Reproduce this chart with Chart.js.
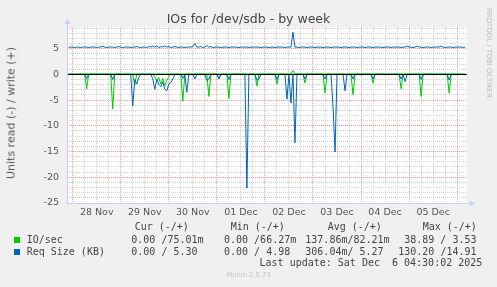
<!DOCTYPE html>
<html>
<head>
<meta charset="utf-8">
<script src="https://cdn.jsdelivr.net/npm/chart.js@4.4.0/dist/chart.umd.min.js"></script>
<style>
  body { margin: 0; background: #f0f0f0; }
  #wrap { position: relative; width: 497px; height: 287px; overflow: hidden; }
  canvas { position: absolute; left: 0; top: 0; }
  .t { position: absolute; white-space: pre; color: #444; }
  .mono { font-family: "DejaVu Sans Mono", monospace; font-size: 10px; line-height: 12px; }
  .sq { position: absolute; width: 6px; height: 6px; }
</style>
</head>
<body>
<div id="wrap">
  <canvas id="ioChart" width="497" height="287"></canvas>
  <div class="t" id="title" style="left:0;width:497px;top:11px;text-align:center;font:12.5px 'DejaVu Sans';color:#444">IOs for /dev/sdb - by week</div>
  <div class="t" style="left:10.8px;top:112.5px;transform:translate(-50%,-50%) rotate(-90deg);font:11px 'DejaVu Sans';color:#555">Units read (-) / write (+)</div>
  <div class="t" style="left:489px;top:53px;transform:translate(-50%,-50%) rotate(90deg);font:7px 'DejaVu Sans';color:#bbb">RRDTOOL / TOBI OETIKER</div>
  <div id="legend"></div>
  <div class="t" style="left:0;width:497px;top:271px;text-align:center;font:6.8px 'DejaVu Sans';color:#c4c4c4">Munin 2.0.73</div>
</div>
<script>
// x axis: hours since 28 Nov 00:00, one sample per hour starting at -2h
const firstHour = -2;
const dayLabels = ['28 Nov', '29 Nov', '30 Nov', '01 Dec', '02 Dec', '03 Dec', '04 Dec', '05 Dec'];

// IO/sec, read side (plotted negative)
const readIO = [
  0, 0,
  0,0,0,0,0,0,0,2.8,0,0,0,0,0,0,0,0,0,0,0,0,6.7,0,0,0,
  0,0,0,0,0,0,0,2.1,0,0,0,0,0,0,0,0,0,0.5,1.2,0.6,1.9,0.8,2.2,1.2,
  0.5,0,0,0,0,0,0,5.2,0,0,0,0,0,0,0,0,0,0,0,0,4.3,0,0,0,
  0,0.8,0,0,0,0,4.7,0,0,0,0,0,0,0,0,0,0,0,0,0,2.3,0,0,0,
  0,0,0,0,0,0,1.9,0,0,0,0,0,0,0,0,0,0,0,0,0,1.7,0,0,0,
  0,0,0,0,0,0,3.6,0,0,0,0,0,0,0,0,0,0,0,0,0,4.0,0,0,0,
  0,0,0,0,0,0,1.7,0,0,0,0,0,0,0,0,0,0,0,0,0,2.8,0,0,0,
  0,0,0,0,0,0,4.3,0,0,0,0,0,0,0,0,0,0,0,0,0,3.7,0,0,0,
  0,0,0,0,0
];
// IO/sec, write side
const writeIO = [
  0.08, 0.08,
  0.08,0.07,0.08,0.08,0.09,0.08,0.08,0.08,0.07,0.08,0.08,0.08,0.09,0.08,0.08,0.08,0.07,0.08,0.08,0.08,0.08,0.09,0.08,0.08,
  0.08,0.08,0.07,0.08,0.08,0.08,0.09,0.08,0.08,0.08,0.08,0.07,0.08,0.08,0.09,0.08,0.08,0.08,0.08,0.09,0.08,0.08,0.08,0.08,
  0.08,0.08,0.08,0.07,0.08,0.08,0.08,0.08,0.09,0.08,0.08,0.08,0.08,0.10,0.08,0.08,0.08,0.07,0.08,0.09,0.08,0.08,0.08,0.08,
  0.08,0.08,0.07,0.08,0.08,0.08,0.08,0.08,0.08,0.09,0.08,0.08,0.08,0.07,0.08,0.08,0.08,0.08,0.08,0.08,0.09,0.08,0.08,0.08,
  0.08,0.08,0.08,0.08,0.07,0.08,0.08,0.08,0.08,0.08,0.08,0.09,0.08,0.08,0.70,0.08,0.08,0.08,0.07,0.08,0.08,0.08,0.08,0.08,
  0.08,0.08,0.08,0.09,0.08,0.08,0.07,0.08,0.08,0.08,0.08,0.08,0.08,0.08,0.09,0.08,0.08,0.07,0.08,0.08,0.08,0.08,0.08,0.08,
  0.08,0.08,0.08,0.08,0.08,0.07,0.08,0.08,0.08,0.09,0.08,0.08,0.08,0.08,0.07,0.08,0.08,0.08,0.08,0.08,0.08,0.09,0.08,0.08,
  0.08,0.08,0.07,0.08,0.08,0.08,0.08,0.08,0.08,0.08,0.09,0.08,0.08,0.08,0.07,0.08,0.08,0.08,0.08,0.08,0.08,0.08,0.08,0.08,
  0.08,0.08,0.07,0.08,0.08
];
// Req Size (KB), read side (plotted negative)
const readReq = [
  0, 0,
  0,0,0,0,0,0,0,0.8,0,0,0,0,0,0,0,0,0,0,0,0,1.0,0,0,0,
  0,0,0,0,0,0,6.1,1.0,1.9,0.6,0,0,0,0,0,0,0.9,2.9,1.0,1.9,2.4,1.5,2.9,3.2,
  1.9,1.6,0.9,0,0,0,0,0.8,0,3.5,0,0,0,0.9,0,0,0,0,0,1.2,0.9,0,0,0,
  0,0.9,0,0,0,0,1.0,0,0,0,0,0,0,0,0,22.1,0,0,0,0,1.2,0.9,0,0,
  0,0,0,0,0,0,1.0,0,0,0,0,4.8,0,5.6,0,13.3,0,0,0,0,0.9,0,0,0,
  0,0,0,0,0,0,0.9,0,0,0,6.3,15.1,0,0,0,0,3.2,0,0,0,0.9,0,0,0,
  0,0,0,0,0,0,0.9,0,0,0,0,0,0,0,0,0,0,0,0,0,0.9,0,1.4,0,
  0,0,0,0,0,0,1.0,0,0,0,0,0,0,0,0,0,0,0,0,0,1.1,0,0,0,
  0,0,0,0,0
];
// Req Size (KB), write side
const writeReq = [
  5.2, 5.3,
  5.3,5.2,5.3,5.3,5.2,5.3,5.3,5.3,5.2,5.3,5.3,5.3,5.2,5.3,5.3,5.5,5.3,5.2,5.3,5.3,5.3,5.2,5.3,5.4,
  5.3,5.2,5.3,5.3,5.3,5.2,5.3,5.3,5.4,5.3,5.2,5.3,5.3,5.2,5.4,5.3,5.5,5.3,5.5,5.2,5.4,5.3,5.5,5.3,
  5.4,5.2,5.3,5.4,5.3,5.2,5.3,5.3,5.2,5.3,5.3,5.3,5.4,6.0,5.3,5.3,5.4,5.2,5.3,5.6,5.3,5.4,5.2,5.3,
  5.3,5.3,5.2,5.3,5.3,5.3,5.2,5.3,5.3,5.3,5.3,5.2,5.3,5.3,5.3,5.3,5.2,5.3,5.3,5.3,5.3,5.3,5.2,5.3,
  5.3,5.3,5.2,5.3,5.3,5.2,5.3,5.3,5.3,5.3,5.2,5.3,5.3,5.3,8.2,5.3,5.3,5.2,5.3,5.3,5.3,5.2,5.3,5.3,
  5.3,5.2,5.3,5.3,5.3,5.2,5.3,5.3,5.3,5.2,5.3,5.3,5.3,5.3,5.2,5.3,5.3,5.3,5.2,5.3,5.3,5.3,5.2,5.3,
  5.3,5.3,5.2,5.3,5.3,5.3,5.2,5.3,5.3,5.3,5.3,5.2,5.3,5.3,5.3,5.2,5.3,5.3,5.3,5.3,5.2,5.3,5.3,5.5,
  5.3,5.3,5.2,5.3,5.5,5.3,5.3,5.2,5.3,5.3,5.3,5.2,5.3,5.3,5.3,5.3,5.5,5.3,5.2,5.3,5.3,5.3,5.2,5.3,
  5.3,5.3,5.3,5.2,5.3
];

// legend table
const seriesNames = ['IO/sec', 'Req Size (KB)'];
const seriesColors = ['#00cc00', '#0066b3'];
const curVals = ['0.00 /75.01m', '0.00 / 5.30'];
const minVals = ['0.00 /66.27m', '0.00 / 4.98'];
const avgVals = ['137.86m/82.21m', '306.04m/ 5.27'];
const maxVals = ['38.89 / 3.53', '130.20 /14.91'];
const lastUpdate = 'Last update: Sat Dec  6 04:30:02 2025';

const pts = (arr, sign) => arr.map((v, i) => ({ x: firstHour + i, y: sign * v }));

const minorGrid = 'rgb(210,210,210)';
const majorGrid = 'rgba(255,0,0,0.42)';
const xMin = -2.83, xMax = 196.9, yMin = -25, yMax = 9.2;

const munPlugin = {
  id: 'munin',
  beforeDraw(chart) {
    const a = chart.chartArea, c = chart.ctx;
    c.save();
    c.fillStyle = '#ffffff';
    c.fillRect(a.left, a.top, a.right - a.left, a.bottom - a.top);
    c.restore();
  },
  afterDatasetsDraw(chart) {
    const a = chart.chartArea, c = chart.ctx;
    const y0 = Math.round(chart.scales.y.getPixelForValue(0)) + 0.5;
    c.save();
    c.strokeStyle = '#000';
    c.lineWidth = 1;
    c.beginPath();
    c.moveTo(a.left, y0);
    c.lineTo(a.right, y0);
    c.stroke();
    // axes with arrows
    c.strokeStyle = '#c8d0f4';
    c.fillStyle = '#c8d0f4';
    const xl = Math.round(a.left) + 0.5, yb = Math.round(a.bottom) + 0.5;
    c.beginPath();
    c.moveTo(xl, yb);
    c.lineTo(xl, a.top - 4);
    c.moveTo(xl, yb);
    c.lineTo(a.right + 4, yb);
    c.stroke();
    c.beginPath();
    c.moveTo(xl - 3, a.top - 3); c.lineTo(xl + 3, a.top - 3); c.lineTo(xl, a.top - 8); c.closePath();
    c.fill();
    c.beginPath();
    c.moveTo(a.right + 3, yb - 3); c.lineTo(a.right + 3, yb + 3); c.lineTo(a.right + 8, yb); c.closePath();
    c.fill();
    c.restore();
  }
};

const tickFont = { family: 'DejaVu Sans', size: 9.5 };

const ctx = document.getElementById('ioChart').getContext('2d');
new Chart(ctx, {
  type: 'line',
  data: {
    datasets: [
      { label: 'Req Size (KB) read', data: pts(readReq, -1), borderColor: seriesColors[1], order: 1 },
      { label: 'Req Size (KB) write', data: pts(writeReq, 1), borderColor: seriesColors[1], order: 1 },
      { label: 'IO/sec read', data: pts(readIO, -1), borderColor: seriesColors[0], order: 2 },
      { label: 'IO/sec write', data: pts(writeIO, 1), borderColor: seriesColors[0], order: 2 }
    ]
  },
  options: {
    responsive: false,
    animation: false,
    devicePixelRatio: 1,
    layout: { padding: { top: 27, right: 30, left: 0, bottom: 0 } },
    elements: {
      point: { radius: 0 },
      line: { borderWidth: 1, tension: 0, fill: false }
    },
    plugins: { legend: { display: false }, tooltip: { enabled: false }, title: { display: false } },
    scales: {
      // minor grid every 6h + day labels at noon
      x: {
        type: 'linear',
        min: xMin,
        max: xMax,
        afterBuildTicks: s => {
          const t = [];
          for (let h = 6; h <= dayLabels.length * 24; h += 6) if (h % 24) t.push({ value: h });
          s.ticks = t;
        },
        afterFit: s => { s.height = 84; },
        ticks: {
          autoSkip: false,
          maxRotation: 0,
          padding: 4,
          color: '#555',
          font: tickFont,
          callback: v => (v % 24 === 12 ? dayLabels[(v - 12) / 24] : '')
        },
        grid: { drawTicks: false, color: minorGrid },
        border: { display: false, dash: [1, 1] }
      },
      // day boundaries
      xDay: {
        type: 'linear',
        position: 'bottom',
        min: xMin,
        max: xMax,
        afterBuildTicks: s => {
          const t = [];
          for (let h = 0; h <= dayLabels.length * 24; h += 24) t.push({ value: h });
          s.ticks = t;
        },
        afterFit: s => { s.height = 0; },
        ticks: { display: false },
        grid: { drawTicks: false, color: majorGrid, lineWidth: 1 },
        border: { display: false, dash: [1, 1] }
      },
      y: {
        min: yMin,
        max: yMax,
        afterBuildTicks: s => {
          const t = [];
          for (let v = -25; v <= 9; v++) t.push({ value: v });
          s.ticks = t;
        },
        afterFit: s => { s.width = 67; },
        ticks: {
          autoSkip: false,
          padding: 8,
          color: '#555',
          font: tickFont,
          callback: v => (v % 5 === 0 ? String(v) : '')
        },
        grid: {
          drawTicks: false,
          color: c => (c.tick && c.tick.value % 5 === 0 ? 'rgba(0,0,0,0)' : minorGrid)
        },
        border: { display: false, dash: [1, 1] }
      },
      yMajor: {
        position: 'left',
        min: yMin,
        max: yMax,
        afterBuildTicks: s => {
          s.ticks = [5, -5, -10, -15, -20].map(v => ({ value: v }));
        },
        afterFit: s => { s.width = 0; },
        ticks: { display: false },
        grid: { drawTicks: false, color: majorGrid, lineWidth: 1 },
        border: { display: false, dash: [1, 1] }
      }
    }
  },
  plugins: [munPlugin]
});

// legend block below the plot
const lg = document.getElementById('legend');
function addText(txt, x, yc) {
  const d = document.createElement('div');
  d.className = 't mono';
  d.style.left = x + 'px';
  d.style.top = (yc - 6) + 'px';
  d.textContent = txt;
  lg.appendChild(d);
}
addText('Cur (-/+)', 134.7, 227.3);
addText('Min (-/+)', 230.7, 227.3);
addText('Avg (-/+)', 327.7, 227.3);
addText('Max (-/+)', 422.7, 227.3);
seriesNames.forEach((name, i) => {
  const yc = 240 + i * 12;
  const sq = document.createElement('div');
  sq.className = 'sq';
  sq.style.left = '14px';
  sq.style.top = (yc - 3) + 'px';
  sq.style.background = seriesColors[i];
  lg.appendChild(sq);
  addText(name, 26.7, yc);
  addText(curVals[i], 131.3, yc);
  addText(minVals[i], 224, yc);
  addText(avgVals[i], 305.3, yc);
  addText(maxVals[i], 476.5 - maxVals[i].length * 6.02, yc);
});
addText(lastUpdate, 482.3 - lastUpdate.length * 6.02, 263.3);
</script>
</body>
</html>
